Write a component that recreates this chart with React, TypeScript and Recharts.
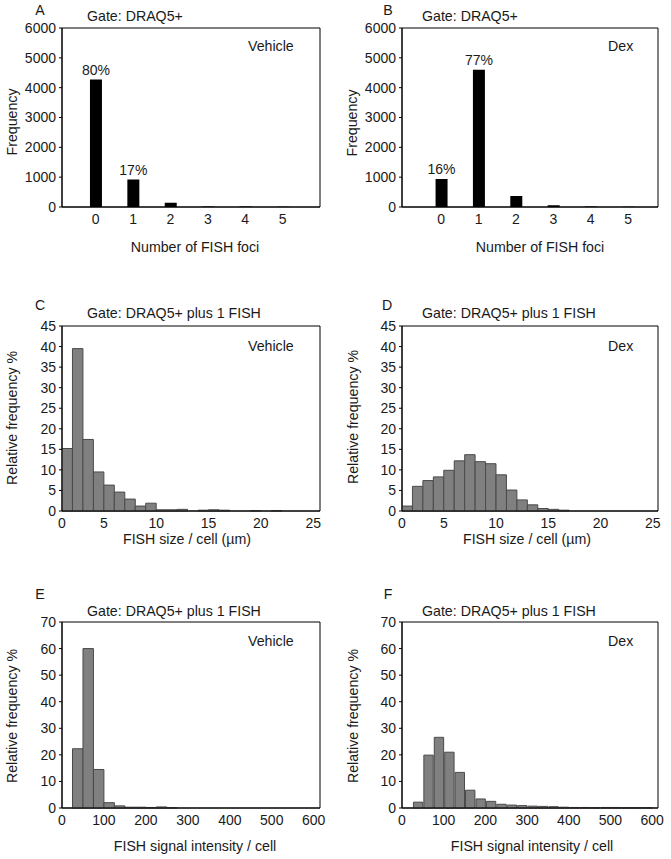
import React from 'react';
import { ComposedChart, Bar, XAxis, YAxis, ReferenceArea, LabelList } from 'recharts';

// panels A/B: number of FISH foci per cell
const fociCategories = [0, 1, 2, 3, 4, 5];
const vehicleFociCounts = [4270, 920, 140, 20, 15, 5];
const dexFociCounts = [940, 4600, 370, 60, 15, 5];
const vehicleFociPct = ['80%', '17%', '', '', '', ''];
const dexFociPct = ['16%', '77%', '', '', '', ''];
const fociYTicks = [0, 1000, 2000, 3000, 4000, 5000, 6000];

// panels C/D: FISH size per cell, 1 µm bins
const sizeBinStarts = [1, 2, 3, 4, 5, 6, 7, 8, 9, 10, 11, 12, 13, 14, 15, 16, 17, 18, 19, 20, 21, 22, 23, 24];
const vehicleSizePct = [15.2, 39.5, 17.4, 9.5, 6.3, 4.6, 2.9, 1.2, 1.9, 0.3, 0.3, 0.4, 0, 0.2, 0.3, 0.2, 0, 0, 0.1, 0, 0.1, 0, 0, 0];
const dexSizePct = [1.2, 6.0, 7.4, 8.3, 9.9, 12.2, 13.7, 12.0, 11.5, 8.8, 5.1, 2.7, 1.5, 0.6, 0.4, 0.2, 0, 0, 0, 0, 0, 0, 0, 0];
const sizeTickValues = [1, 5, 10, 15, 20, 25];
const sizeTickLabels = ['0', '5', '10', '15', '20', '25'];
const sizeYTicks = [0, 5, 10, 15, 20, 25, 30, 35, 40, 45];

// panels E/F: FISH signal intensity per cell, bins of 25
const intensityBinStarts = [0, 25, 50, 75, 100, 125, 150, 175, 200, 225, 250, 275, 300, 325, 350, 375, 400, 425, 450, 475, 500, 525, 550, 575];
const vehicleIntensityPct = [0, 22.3, 60, 14.5, 2.0, 0.8, 0.3, 0.3, 0.2, 0.4, 0.1, 0, 0, 0, 0, 0, 0, 0, 0, 0, 0, 0, 0, 0];
const dexIntensityPct = [0, 2.2, 19.9, 26.6, 21.0, 13.4, 6.7, 3.4, 2.5, 1.4, 1.1, 0.9, 0.7, 0.6, 0.5, 0.3, 0.2, 0.2, 0.1, 0.2, 0.2, 0.1, 0.1, 0.1];
const intensityTicks = [0, 100, 200, 300, 400, 500, 600];
const intensityYTicks = [0, 10, 20, 30, 40, 50, 60, 70];

const FONT = '"Liberation Sans", Arial, Helvetica, sans-serif';
const TEXT = '#1a1a1a';

const fociRows = (counts: number[], pct: string[]) =>
  fociCategories.map((c, i) => ({ x: c, v: counts[i], pct: pct[i] }));
const binRows = (starts: number[], width: number, vals: number[]) =>
  starts.map((s, i) => ({ x: s + width / 2, v: vals[i] }));

function Txt({ x, y, children, anchor = 'start', rotate = false }: any) {
  const tx = anchor === 'middle' ? '-50%' : '0';
  return (
    <div
      style={{
        position: 'absolute',
        left: x,
        top: y,
        transform: rotate ? 'translate(-50%,-50%) rotate(-90deg)' : `translate(${tx},-50%)`,
        fontFamily: FONT,
        fontSize: 14.2,
        lineHeight: 1,
        color: TEXT,
        whiteSpace: 'nowrap',
      }}
    >
      {children}
    </div>
  );
}

function Panel({ p }: any) {
  const top = p.plotTop - 8;
  const w = p.plotRight - p.left + 8;
  const h = 8 + (p.plotBottom - p.plotTop) + 26;
  return (
    <>
      <div style={{ position: 'absolute', left: p.left, top }}>
        <ComposedChart width={w} height={h} data={p.data} margin={{ top: 8, right: 8, bottom: 0, left: 0 }}>
          <XAxis
            dataKey="x"
            type="number"
            domain={p.xDomain}
            ticks={p.xTicks}
            tickFormatter={p.xFormat}
            allowDataOverflow
            height={26}
            tickLine={false}
            tickSize={0}
            tickMargin={7}
            axisLine={{ stroke: '#000' }}
            tick={{ fill: TEXT, fontSize: 14, fontFamily: FONT }}
            interval={0}
          />
          <YAxis
            type="number"
            domain={p.yDomain}
            ticks={p.yTicks}
            width={p.plotLeft - p.left}
            tickSize={3}
            tickMargin={3}
            interval={0}
            axisLine={{ stroke: '#000' }}
            tickLine={{ stroke: '#000' }}
            tick={{ fill: TEXT, fontSize: 14, fontFamily: FONT }}
          />
          <Bar dataKey="v" barSize={p.barSize} fill={p.fill} stroke={p.stroke} strokeWidth={p.stroke ? 1 : 0} isAnimationActive={false}>
            {p.withPct && (
              <LabelList dataKey="pct" position="top" offset={5} fill={TEXT} fontSize={14} fontFamily={FONT} />
            )}
          </Bar>
          <ReferenceArea
            x1={p.xDomain[0]}
            x2={p.xDomain[1]}
            y1={p.yDomain[0]}
            y2={p.yDomain[1]}
            fill="none"
            stroke="#000"
            strokeWidth={1}
            ifOverflow="visible"
          />
        </ComposedChart>
      </div>
      <Txt x={p.letterPos[0]} y={p.letterPos[1]} anchor="middle">{p.letter}</Txt>
      <Txt x={p.gatePos[0]} y={p.gatePos[1]}>{p.gate}</Txt>
      <Txt x={p.treatPos[0]} y={p.treatPos[1]}>{p.treatment}</Txt>
      <Txt x={p.yLabelPos[0]} y={p.yLabelPos[1]} rotate>{p.yLabel}</Txt>
      <Txt x={p.xLabelPos[0]} y={p.xLabelPos[1]} anchor="middle">{p.xLabel}</Txt>
    </>
  );
}

const sizeFormat = (v: number) => sizeTickLabels[sizeTickValues.indexOf(v)] ?? String(v);

const panels = [
  {
    letter: 'A', gate: 'Gate: DRAQ5+', treatment: 'Vehicle', yLabel: 'Frequency', xLabel: 'Number of FISH foci',
    data: fociRows(vehicleFociCounts, vehicleFociPct), withPct: true,
    xDomain: [-0.9, 6], xTicks: fociCategories, yDomain: [0, 6000], yTicks: fociYTicks,
    barSize: 12, fill: '#000', stroke: '',
    left: 0, plotLeft: 62, plotRight: 320, plotTop: 28, plotBottom: 207,
    letterPos: [40, 10], gatePos: [87, 16], treatPos: [248, 46], yLabelPos: [12, 122], xLabelPos: [195, 247],
  },
  {
    letter: 'B', gate: 'Gate: DRAQ5+', treatment: 'Dex', yLabel: 'Frequency', xLabel: 'Number of FISH foci',
    data: fociRows(dexFociCounts, dexFociPct), withPct: true,
    xDomain: [-1.05, 5.8], xTicks: fociCategories, yDomain: [0, 6000], yTicks: fociYTicks,
    barSize: 12, fill: '#000', stroke: '',
    left: 335, plotLeft: 402, plotRight: 658, plotTop: 28, plotBottom: 207,
    letterPos: [388, 10], gatePos: [422, 16], treatPos: [608, 46], yLabelPos: [352, 123], xLabelPos: [540, 247],
  },
  {
    letter: 'C', gate: 'Gate: DRAQ5+ plus 1 FISH', treatment: 'Vehicle', yLabel: 'Relative frequency %', xLabel: 'FISH size / cell (µm)',
    data: binRows(sizeBinStarts, 1, vehicleSizePct),
    xDomain: [1, 25.65], xTicks: sizeTickValues, xFormat: sizeFormat, yDomain: [0, 45], yTicks: sizeYTicks,
    barSize: 10.46, fill: '#808080', stroke: '#4a4a4a',
    left: 0, plotLeft: 62, plotRight: 320, plotTop: 326, plotBottom: 511,
    letterPos: [40, 305], gatePos: [87, 313], treatPos: [248, 346], yLabelPos: [12, 418], xLabelPos: [187, 539],
  },
  {
    letter: 'D', gate: 'Gate: DRAQ5+ plus 1 FISH', treatment: 'Dex', yLabel: 'Relative frequency %', xLabel: 'FISH size / cell (µm)',
    data: binRows(sizeBinStarts, 1, dexSizePct),
    xDomain: [1, 25.5], xTicks: sizeTickValues, xFormat: sizeFormat, yDomain: [0, 45], yTicks: sizeYTicks,
    barSize: 10.4, fill: '#808080', stroke: '#4a4a4a',
    left: 335, plotLeft: 402, plotRight: 658, plotTop: 326, plotBottom: 511,
    letterPos: [387, 305], gatePos: [422, 313], treatPos: [608, 346], yLabelPos: [353, 417], xLabelPos: [527, 539],
  },
  {
    letter: 'E', gate: 'Gate: DRAQ5+ plus 1 FISH', treatment: 'Vehicle', yLabel: 'Relative frequency %', xLabel: 'FISH signal intensity / cell',
    data: binRows(intensityBinStarts, 25, vehicleIntensityPct),
    xDomain: [0, 615], xTicks: intensityTicks, yDomain: [0, 70], yTicks: intensityYTicks,
    barSize: 10.45, fill: '#808080', stroke: '#4a4a4a',
    left: 0, plotLeft: 62, plotRight: 320, plotTop: 622, plotBottom: 808,
    letterPos: [40, 594], gatePos: [87, 611], treatPos: [248, 641], yLabelPos: [12, 716], xLabelPos: [195, 846],
  },
  {
    letter: 'F', gate: 'Gate: DRAQ5+ plus 1 FISH', treatment: 'Dex', yLabel: 'Relative frequency %', xLabel: 'FISH signal intensity / cell',
    data: binRows(intensityBinStarts, 25, dexIntensityPct),
    xDomain: [0, 614], xTicks: intensityTicks, yDomain: [0, 70], yTicks: intensityYTicks,
    barSize: 10.45, fill: '#808080', stroke: '#4a4a4a',
    left: 335, plotLeft: 402, plotRight: 658, plotTop: 622, plotBottom: 808,
    letterPos: [388, 594], gatePos: [422, 611], treatPos: [608, 641], yLabelPos: [353, 716], xLabelPos: [532, 846],
  },
];

export default function App() {
  return (
    <div style={{ position: 'absolute', left: 0, top: 0, width: 671, height: 859, background: '#fff', overflow: 'hidden' }}>
      {panels.map((p) => (
        <Panel key={p.letter} p={p} />
      ))}
    </div>
  );
}
